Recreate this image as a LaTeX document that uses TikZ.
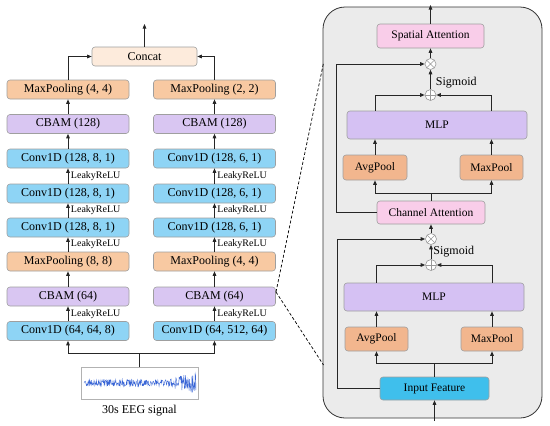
\documentclass[tikz,border=0pt]{standalone}
\usepackage{fontspec}
\setmainfont{Liberation Serif}
\usetikzlibrary{arrows.meta,calc}
\definecolor{cconv}{HTML}{8ED4F5}
\definecolor{cmaxp}{HTML}{F8C9A2}
\definecolor{ccbam}{HTML}{D9C6F2}
\definecolor{cconcat}{HTML}{FDEBDC}
\definecolor{cpink}{HTML}{F9CDE9}
\definecolor{cpool}{HTML}{F2B68E}
\definecolor{cmlp}{HTML}{D5C1F3}
\definecolor{cinput}{HTML}{3FBFEC}
\definecolor{cpanel}{HTML}{EBEBEB}
\definecolor{csig}{HTML}{3A66D6}
\begin{document}
\begin{tikzpicture}[x=1pt,y=-1pt,
  box/.style={draw=gray!75, line width=0.6pt, rounded corners=3pt, inner sep=0pt,
              font=\fontsize{12}{14}\selectfont},
  colbox/.style={box, minimum width=122pt, minimum height=19pt},
  pbox/.style={box, font=\fontsize{11.5}{14}\selectfont},
  arr/.style={-{Triangle[length=4.5pt,width=3.6pt]}, line width=0.9pt, draw=black!85},
  link/.style={line width=0.9pt, draw=black!85},
  lbl/.style={font=\fontsize{10}{12}\selectfont, anchor=west, inner sep=1pt, xshift=1.5pt},
  opcirc/.style={circle, draw=gray!80, fill=white, line width=0.6pt, minimum size=11pt, inner sep=0pt},
  oplus/.style={opcirc, path picture={\draw[gray!80, line width=0.6pt]
      (path picture bounding box.north) -- (path picture bounding box.south)
      (path picture bounding box.west) -- (path picture bounding box.east);}},
  otimes/.style={opcirc, path picture={\draw[gray!80, line width=0.6pt]
      (path picture bounding box.north west) -- (path picture bounding box.south east)
      (path picture bounding box.north east) -- (path picture bounding box.south west);}},
  dsh/.style={dashed, dash pattern=on 3pt off 2pt, line width=0.7pt, draw=black}
]
\useasboundingbox (0,0) rectangle (550,426);

% ---------- left column ----------
\node[colbox, fill=cmaxp] (mpTL) at (68,89.5) {MaxPooling (4, 4)};
\node[colbox, fill=ccbam] (cbTL) at (68,124) {CBAM (128)};
\node[colbox, fill=cconv] (c3L) at (68,158.5) {Conv1D (128, 8, 1)};
\node[colbox, fill=cconv] (c2L) at (68,193.5) {Conv1D (128, 8, 1)};
\node[colbox, fill=cconv] (c1L) at (68,227.5) {Conv1D (128, 8, 1)};
\node[colbox, fill=cmaxp] (mpBL) at (68,261.5) {MaxPooling (8, 8)};
\node[colbox, fill=ccbam] (cbBL) at (68,296.5) {CBAM (64)};
\node[colbox, fill=cconv] (c0L) at (68,331) {Conv1D (64, 64, 8)};

% ---------- right column ----------
\node[colbox, fill=cmaxp] (mpTR) at (214.5,89.5) {MaxPooling (2, 2)};
\node[colbox, fill=ccbam] (cbTR) at (214.5,124) {CBAM (128)};
\node[colbox, fill=cconv] (c3R) at (214.5,158.5) {Conv1D (128, 6, 1)};
\node[colbox, fill=cconv] (c2R) at (214.5,193.5) {Conv1D (128, 6, 1)};
\node[colbox, fill=cconv] (c1R) at (214.5,227.5) {Conv1D (128, 6, 1)};
\node[colbox, fill=cmaxp] (mpBR) at (214.5,261.5) {MaxPooling (4, 4)};
\node[colbox, fill=ccbam] (cbBR) at (214.5,296.5) {CBAM (64)};
\node[colbox, fill=cconv] (c0R) at (214.5,331) {Conv1D (64, 512, 64)};

\node[box, fill=cconcat, minimum width=105pt, minimum height=19pt] (concat) at (144.5,56.5) {Concat};
\coordinate (outL) at (144.5,24);

% EEG
\node[draw=gray!60, line width=0.6pt, fill=white, minimum width=117pt, minimum height=32pt, inner sep=0pt] (eeg) at (139.5,383) {};
\node[font=\fontsize{12}{14}\selectfont, inner sep=0pt] (eeglbl) at (139.5,411) {30s EEG signal};
\pgfmathsetseed{11}
\draw[csig, line width=0.4pt] plot[domain=0:112, samples=280]
  ({84+\x}, {383 + (3.4 + 8.5*max(0,(\x-84)/28)*(1-0.3*max(0,(\x-104)/8)))*rand});

\coordinate (split) at (139.5,353);

% arrows left
\foreach \s in {L,R}{
  \draw[arr] (c0\s.north) -- node[lbl]{LeakyReLU} (cbB\s.south);
  \draw[arr] (cbB\s.north) -- (mpB\s.south);
  \draw[arr] (mpB\s.north) -- node[lbl]{LeakyReLU} (c1\s.south);
  \draw[arr] (c1\s.north) -- node[lbl]{LeakyReLU} (c2\s.south);
  \draw[arr] (c2\s.north) -- node[lbl]{LeakyReLU} (c3\s.south);
  \draw[arr] (c3\s.north) -- (cbT\s.south);
  \draw[arr] (cbT\s.north) -- (mpT\s.south);
}
\draw[arr] (mpTL.north) |- (concat.west);
\draw[arr] (mpTR.north) |- (concat.east);
\draw[arr] (concat.north) -- (outL);
\draw[link] (eeg.north) -- (split);
\draw[arr] (split) -| (c0L.south);
\draw[arr] (split) -| (c0R.south);

% ---------- right panel ----------
\node[draw=black!80, line width=0.8pt, fill=cpanel, rounded corners=22pt,
      minimum width=219pt, minimum height=411pt, inner sep=0pt] (panel) at (432.5,212.5) {};

\node[pbox, fill=cpink, minimum width=107pt, minimum height=24pt] (sa) at (430.5,36) {Spatial Attention};
\node[otimes] (ot1) at (430.5,64) {};
\node[oplus] (op1) at (430.5,95) {};
\node[pbox, fill=cmlp, minimum width=180pt, minimum height=28pt] (mlp1) at (437,125) {MLP};
\node[pbox, fill=cpool, minimum width=64pt, minimum height=25pt] (avg1) at (375,167.5) {AvgPool};
\node[pbox, fill=cpool, minimum width=63pt, minimum height=25pt] (max1) at (491.5,167.5) {MaxPool};
\node[pbox, fill=cpink, minimum width=108pt, minimum height=23pt] (ca) at (431,212.5) {Channel Attention};
\node[otimes] (ot2) at (431,239) {};
\node[oplus] (op2) at (431,265) {};
\node[pbox, fill=cmlp, minimum width=180pt, minimum height=28pt] (mlp2) at (434,297) {MLP};
\node[pbox, fill=cpool, minimum width=63pt, minimum height=24pt] (avg2) at (376.5,339) {AvgPool};
\node[pbox, fill=cpool, minimum width=62pt, minimum height=24pt] (max2) at (492,339) {MaxPool};
\node[pbox, fill=cinput, minimum width=109pt, minimum height=23pt] (inp) at (434.5,388.5) {Input Feature};

\coordinate (outR) at (430.5,5);
\coordinate (inR) at (434.5,421);
\coordinate (sp1) at (431,193);
\coordinate (sp2) at (434.5,363);

% upper CBAM part
\draw[arr] (sa.north) -- (outR);
\draw[arr] (ot1.north) -- (sa.south);
\draw[arr] (op1.north) -- node[font=\fontsize{12}{14}\selectfont, anchor=west, inner sep=0pt, xshift=5pt, yshift=-3pt]{Sigmoid} (ot1.south);
\draw[arr] (mlp1.north -| avg1) |- (op1.west);
\draw[arr] (mlp1.north -| max1) |- (op1.east);
\draw[arr] (avg1.north) -- (avg1.north |- mlp1.south);
\draw[arr] (max1.north) -- (max1.north |- mlp1.south);
\draw[link] (ca.north) -- (sp1);
\draw[arr] (sp1) -| (avg1.south);
\draw[arr] (sp1) -| (max1.south);
\draw[arr] (ca.west) -- ++(-40,0) |- (ot1.west);

% lower CBAM part
\draw[arr] (ot2.north) -- (ca.south);
\draw[arr] (op2.north) -- node[font=\fontsize{12}{14}\selectfont, anchor=west, inner sep=0pt, xshift=2pt]{Sigmoid} (ot2.south);
\draw[arr] (mlp2.north -| avg2) |- (op2.west);
\draw[arr] (mlp2.north -| max2) |- (op2.east);
\draw[arr] (avg2.north) -- (avg2.north |- mlp2.south);
\draw[arr] (max2.north) -- (max2.north |- mlp2.south);
\draw[link] (inp.north) -- (sp2);
\draw[arr] (sp2) -| (avg2.south);
\draw[arr] (sp2) -| (max2.south);
\draw[arr] (inp.west) -- ++(-42,0) |- (ot2.west);
\draw[arr] (inR) -- (inp.south);

% dashed zoom lines
\coordinate (zt) at (323.5,63);
\coordinate (zb) at (323.5,365);
\coordinate (zs) at (276,292);
\draw[dsh] (zs) -- (zt);
\draw[dsh] (zs) -- (zb);
\end{tikzpicture}
\end{document}
